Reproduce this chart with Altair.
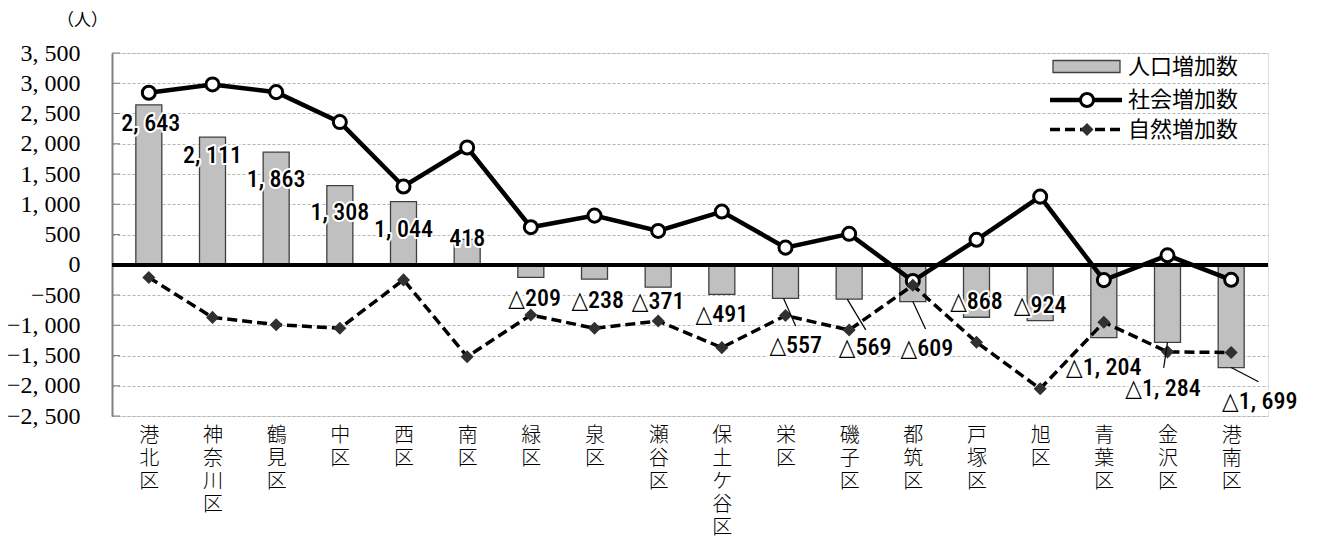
import json
import altair as alt
import pandas as pd

# ---- data ----
districts = ["港北区", "神奈川区", "鶴見区", "中区", "西区", "南区", "緑区", "泉区", "瀬谷区",
             "保土ケ谷区", "栄区", "磯子区", "都筑区", "戸塚区", "旭区", "青葉区", "金沢区", "港南区"]
pop_increase = [2643, 2111, 1863, 1308, 1044, 418, -209, -238, -371, -491, -557, -569, -609,
                -868, -924, -1204, -1284, -1699]
social_increase = [2843, 2981, 2853, 2358, 1294, 1938, 621, 812, 559, 879, 283, 511, -269,
                   412, 1126, -254, 156, -249]
natural_increase = [-210, -870, -990, -1050, -250, -1520, -830, -1050, -930, -1370, -840, -1080,
                    -340, -1280, -2050, -950, -1440, -1450]
series_names = ["人口増加数", "社会増加数", "自然増加数"]
y_ticks = list(range(-2500, 3501, 500))

# label anchor positions (category units / value units)
label_shift = [0.03, 0, 0, 0, 0, 0, 0.06, 0.05, 0, 0, 0.16, 0.25, 0.22, 0, 0, 0, -0.07, 0.45]
label_y = [2327, 1798, 1402, 856, 575, 426, -565, -598, -615, -830, -1342, -1375, -1392,
           -615, -681, -1706, -2053, -2268]
# leader lines: district index, start shift, end shift, end value
leader_idx = [10, 11, 12, 16, 17]
leader_start_shift = [-0.03, -0.03, 0, 0, 0]
leader_end_shift = [0.16, 0.26, 0.2, -0.06, 0.43]
leader_end_y = [-1012, -1077, -1060, -1706, -1935]

idx = list(range(len(districts)))
df = pd.DataFrame({
    "i": idx,
    "name": districts,
    "pop": pop_increase,
    "social": social_increase,
    "natural": natural_increase,
    "lx": [i + s for i, s in zip(idx, label_shift)],
    "ly": label_y,
})
lead_df = pd.DataFrame({
    "x": [i + s for i, s in zip(leader_idx, leader_start_shift)],
    "y": [pop_increase[i] for i in leader_idx],
    "x2": [i + s for i, s in zip(leader_idx, leader_end_shift)],
    "y2": leader_end_y,
})
tick_df = pd.DataFrame({"v": y_ticks})

W, H = 1156, 363
JP = "Noto Sans CJK JP"
NUMFONT = "Roboto Condensed, DejaVu Sans Condensed, Roboto"

names_js = json.dumps(districts, ensure_ascii=False)
x_scale = alt.Scale(domain=[-0.5, 17.5], nice=False, zero=False)
y_scale = alt.Scale(domain=[-2500, 3500], nice=False, zero=False)

x_axis = alt.Axis(
    values=idx, title=None, grid=False, domain=False, ticks=False,
    labelExpr=f"split({names_js}[datum.value], '')",
    labelFont=JP, labelFontSize=20, labelFontWeight=300, labelColor="#000",
    labelLineHeight=23, labelBaseline="top", labelPadding=9, labelFlush=False,
    labelOverlap=False,
)
y_axis = alt.Axis(
    values=y_ticks, title="（人）", titleAngle=0, titleX=-30, titleY=-33,
    titleAlign="center", titleBaseline="middle", titleFont=JP, titleFontSize=17,
    titleFontWeight="normal", titleColor="#000",
    labelExpr="replace(format(datum.value, ','), ',', ', ')",
    labelFont="Liberation Serif", labelFontSize=24, labelColor="#000", labelPadding=32,
    labelOverlap=False, labelFlush=False, labelBound=False,
    ticks=False, tickSize=0, domainColor="#808080", domainWidth=2,
    grid=True, gridColor="#b5b5b5", gridDash=[3, 2], gridWidth=1,
)


def X(field):
    return alt.X(field, scale=x_scale, axis=x_axis)


def Y(field):
    return alt.Y(field, scale=y_scale, axis=y_axis)


base = alt.Chart(df)

bars = base.mark_bar(size=26, color="#c0c0c0", stroke="#404040", strokeWidth=1.3).encode(
    x=X("i:Q"), y=Y("pop:Q")
)
inner_ticks = alt.Chart(tick_df).mark_rule(color="#808080", strokeWidth=1).encode(
    y=Y("v:Q"), x=alt.value(0), x2=alt.value(8)
)
zero = base.mark_rule(color="#000", strokeWidth=3.5).encode(
    y=alt.datum(0, scale=y_scale, axis=y_axis), x=alt.value(0), x2=alt.value(W)
)
social_line = base.mark_line(color="#000", strokeWidth=4.5).encode(x=X("i:Q"), y=Y("social:Q"))
social_pts = base.mark_point(shape="circle", size=170, filled=True, fill="#fff",
                             stroke="#000", strokeWidth=3, opacity=1).encode(
    x=X("i:Q"), y=Y("social:Q")
)
natural_line = base.mark_line(color="#000", strokeWidth=3.5, strokeDash=[10, 5]).encode(
    x=X("i:Q"), y=Y("natural:Q")
)
natural_pts = base.mark_point(shape="diamond", size=170, filled=True, color="#303030",
                              opacity=1).encode(x=X("i:Q"), y=Y("natural:Q"))
leaders = alt.Chart(lead_df).mark_rule(color="#000", strokeWidth=1.2).encode(
    x=X("x:Q"), y=Y("y:Q"), x2="x2:Q", y2="y2:Q"
)

label_base = base.transform_calculate(
    txt="(datum.pop < 0 ? '△' : '') + replace(format(abs(datum.pop), ','), ',', ', ')"
)
halo = label_base.mark_text(font=NUMFONT, fontSize=24, fontWeight=500, stroke="#fff",
                            strokeWidth=4, strokeJoin="round", color="#fff",
                            align="center", baseline="middle").encode(
    x=X("lx:Q"), y=Y("ly:Q"), text="txt:N"
)
labels = label_base.mark_text(font=NUMFONT, fontSize=24, fontWeight=500, color="#000",
                              align="center", baseline="middle").encode(
    x=X("lx:Q"), y=Y("ly:Q"), text="txt:N"
)

# ---- legend (top right) ----
one = alt.Chart(pd.DataFrame({"k": [0]}))
LX0, LX1, LXC, LT = 938, 1010, 975, 1016
LY = [13.5, 47, 76.5]
leg_rect = one.mark_rect(color="#c0c0c0", stroke="#404040", strokeWidth=1.3).encode(
    x=alt.value(LX0 + 3), x2=alt.value(LX1 - 2), y=alt.value(LY[0] - 6), y2=alt.value(LY[0] + 6)
)
leg_l2 = one.mark_rule(color="#000", strokeWidth=4.5).encode(
    x=alt.value(LX0), x2=alt.value(LX1), y=alt.value(LY[1])
)
leg_p2 = one.mark_point(shape="circle", size=170, filled=True, fill="#fff", stroke="#000",
                        strokeWidth=3, opacity=1).encode(x=alt.value(LXC), y=alt.value(LY[1]))
leg_l3 = one.mark_rule(color="#000", strokeWidth=3.5, strokeDash=[10, 5]).encode(
    x=alt.value(LX0), x2=alt.value(LX1), y=alt.value(LY[2])
)
leg_p3 = one.mark_point(shape="diamond", size=170, filled=True, color="#303030",
                        opacity=1).encode(x=alt.value(LXC), y=alt.value(LY[2]))
leg_texts = [
    one.mark_text(text=series_names[k], font=JP, fontSize=22, align="left",
                  baseline="middle", color="#000").encode(x=alt.value(LT), y=alt.value(LY[k]))
    for k in range(3)
]

chart = alt.layer(
    bars, inner_ticks, zero, social_line, social_pts, natural_line, natural_pts, leaders,
    halo, labels,
    leg_rect, leg_l2, leg_p2, leg_l3, leg_p3, *leg_texts,
).properties(
    width=W, height=H,
    autosize=alt.AutoSizeParams(type="none"),
    padding={"left": 104, "top": 45, "right": 30, "bottom": 124},
).configure_view(stroke=None).configure_axisY(labelOverlap=False).configure(background="#ffffff")

chart.save("out.html", embed_options={"renderer": "svg", "actions": False})
